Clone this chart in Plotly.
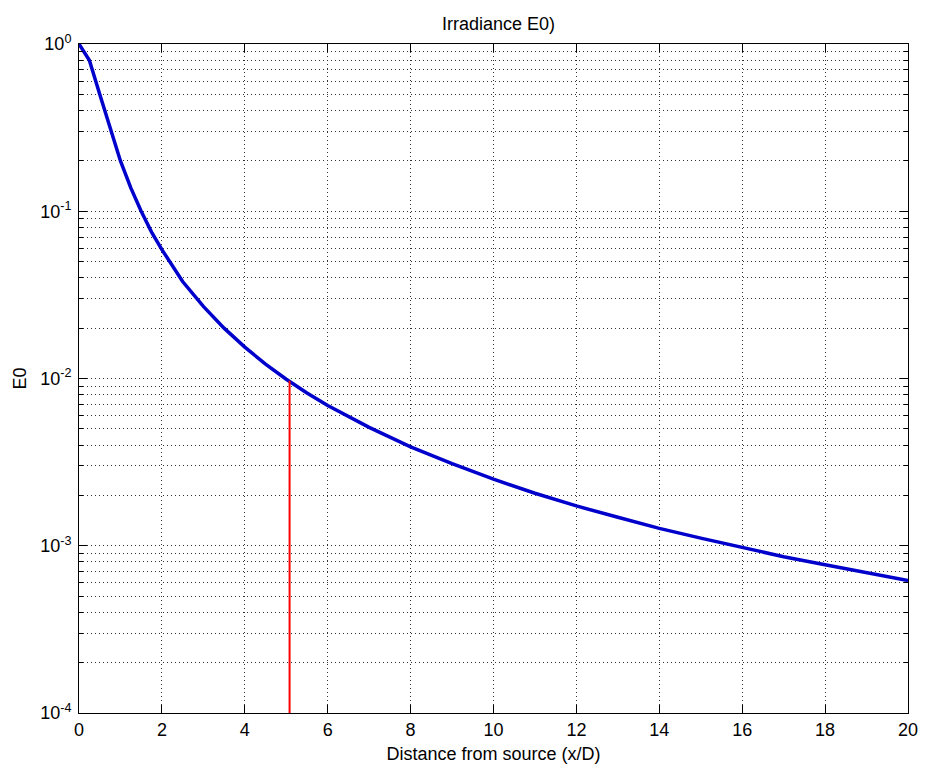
import plotly.graph_objects as go

# Data
distance = [0, 0.25, 0.5, 0.75, 1, 1.25, 1.5, 1.75, 2, 2.5, 3, 3.5, 4, 4.5, 5,
            5.5, 6, 7, 8, 9, 10, 11, 12, 13, 14, 15, 16, 17, 18, 19, 20]
irradiance = [1.0, 0.80, 0.50, 0.31, 0.20, 0.138, 0.10, 0.075, 0.059, 0.038,
              0.027, 0.020, 0.0154, 0.0122, 0.0099, 0.0082, 0.0069, 0.0051,
              0.0039, 0.0031, 0.0025, 0.00206, 0.00173, 0.00148, 0.00127,
              0.00111, 0.00098, 0.00086, 0.00077, 0.00069, 0.00062]

marker_x = [5.08, 5.08]
marker_y = [1e-4, 0.0097]

x_ticks = list(range(0, 21, 2))
y_ticks = [1e-4, 1e-3, 1e-2, 1e-1, 1]
y_labels = ['10<sup>-4</sup>', '10<sup>-3</sup>', '10<sup>-2</sup>',
            '10<sup>-1</sup>', '10<sup>0</sup>']
y_minor = [k * d for d in y_ticks[:-1] for k in range(2, 10)]

fig = go.Figure()
fig.add_trace(go.Scatter(x=distance, y=irradiance, mode='lines',
                         line=dict(color='#0000CC', width=3.5)))
fig.add_trace(go.Scatter(x=marker_x, y=marker_y, mode='lines',
                         line=dict(color='#FF0000', width=2)))

family = 'Liberation Sans, Arial, sans-serif'
txt = dict(family=family, size=18, color='black')
dots = '1px,3px'
grid = dict(showgrid=True, gridcolor='#333333', griddash=dots, gridwidth=1,
            showline=True, linecolor='black', linewidth=1, mirror='ticks',
            ticks='inside', ticklen=8, tickcolor='black', zeroline=False,
            tickfont=txt)

# page body adds 8px offset, so the figure is trimmed by that much
fig.update_layout(
    width=922, height=764,
    margin=dict(l=68, r=17, t=36, b=57),
    paper_bgcolor='white', plot_bgcolor='white',
    showlegend=False, font=txt,
    title=dict(text='Irradiance E0)', x=0.532, xanchor='center',
               y=0.98, yanchor='middle', font=txt),
)
fig.update_xaxes(range=[0, 20], tickmode='array', tickvals=x_ticks,
                 title=dict(text='Distance from source (x/D)', standoff=8,
                            font=txt),
                 **grid)
fig.update_yaxes(type='log', range=[-4, 0], tickmode='array',
                 tickvals=y_ticks, ticktext=y_labels, ticklabelstandoff=3,
                 title=dict(text='E0', standoff=8, font=txt),
                 minor=dict(tickmode='array', tickvals=y_minor, showgrid=True,
                            gridcolor='#333333', griddash=dots, gridwidth=1,
                            ticks='inside', ticklen=4, tickcolor='black'),
                 **grid)

fig.write_html("out.html")
